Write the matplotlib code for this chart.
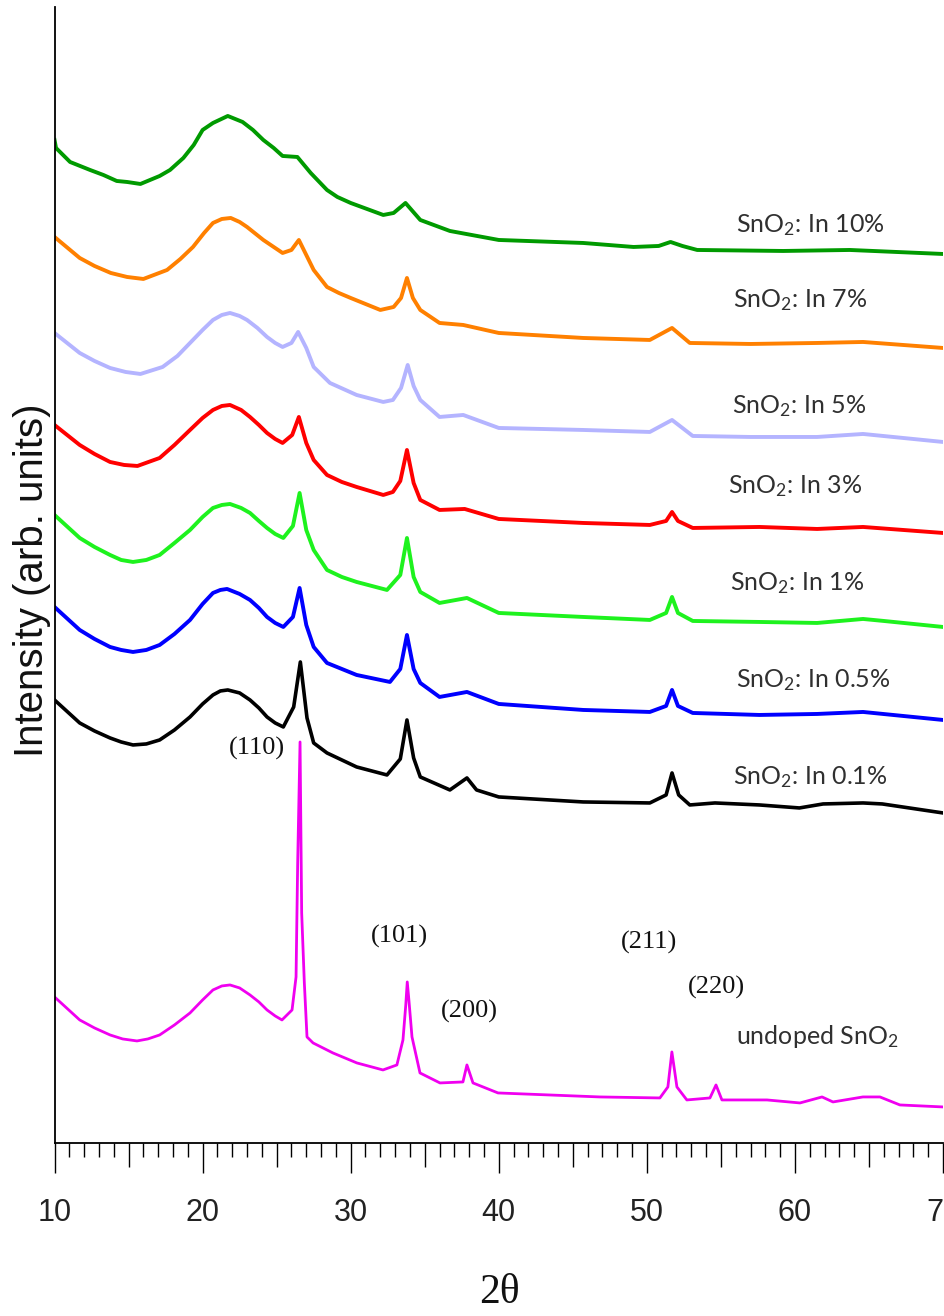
import matplotlib
matplotlib.use("Agg")
import matplotlib.pyplot as plt
from matplotlib.ticker import MultipleLocator, FuncFormatter

plt.rcParams['mathtext.fontset'] = 'custom'
plt.rcParams['mathtext.rm'] = 'Lato'
plt.rcParams['mathtext.it'] = 'Lato:italic'
plt.rcParams['mathtext.bf'] = 'Lato:bold'

# ---------------- data (2theta, intensity in arb. units incl. offsets) ----------------
green_x = [10.0, 10.1, 11.05, 12.4, 13.3, 14.2, 14.9, 15.8, 17.1, 17.8, 18.7, 19.4, 20.0, 20.7, 21.7, 22.7,
           23.4, 24.1, 24.8, 25.4, 26.4, 27.3, 28.4, 29.1, 30.0, 32.2, 32.9, 33.7, 34.7, 36.7, 40.0, 45.7,
           49.1, 50.8, 51.6, 52.4, 53.4, 59.2, 63.7, 70.0]
green_y = [1003, 995, 981, 973, 968, 962, 961, 959, 967, 973, 985, 998, 1013, 1020, 1027, 1021,
           1013, 1003, 995, 987, 986, 970, 953, 946, 940, 928, 930, 940, 923, 912, 903, 900,
           896, 897, 901, 897, 893, 892, 893, 889]

orange_x = [10.0, 11.7, 12.7, 13.8, 14.9, 16.0, 17.6, 18.5, 19.35, 20.1, 20.7, 21.3, 21.9, 22.5, 23.0, 24.1,
            24.8, 25.4, 26.0, 26.5, 27.0, 27.5, 28.4, 29.2, 30.0, 31.0, 32.0, 32.9, 33.4, 33.8, 34.2, 34.7,
            36.0, 37.6, 40.0, 45.7, 50.2, 51.7, 52.9, 57.0, 61.5, 64.6, 70.0]
orange_y = [906, 885, 877, 870, 866, 864, 873, 884, 896, 910, 920, 924, 925, 921, 916, 903,
            896, 890, 893, 903, 888, 873, 856, 850, 845, 839, 833, 836, 845, 865, 845, 833,
            820, 818, 810, 805, 803, 815, 800, 799, 800, 801, 795]

lav_x = [10.0, 11.7, 12.7, 13.75, 14.8, 15.8, 17.3, 18.3, 19.15, 20.0, 20.7, 21.3, 21.85, 22.5, 23.0, 23.7,
         24.35, 24.9, 25.4, 26.0, 26.45, 27.0, 27.5, 28.6, 29.5, 30.4, 32.2, 32.85, 33.4, 33.85, 34.25, 34.7,
         36.0, 37.6, 40.0, 45.7, 50.2, 51.7, 53.1, 57.0, 61.5, 64.6, 70.0]
lav_y = [810, 790, 782, 775, 771, 769, 776, 787, 800, 813, 823, 828, 830, 827, 823, 815,
         806, 800, 796, 800, 811, 795, 776, 760, 754, 748, 741, 743, 755, 778, 757, 743,
         726, 728, 715, 713, 711, 723, 707, 706, 706, 709, 701]

red_x = [10.0, 11.7, 12.7, 13.75, 14.7, 15.6, 17.1, 18.1, 19.15, 20.0, 20.7, 21.3, 21.85, 22.6, 23.2, 23.8,
         24.35, 24.9, 25.4, 26.05, 26.5, 27.0, 27.5, 28.4, 29.4, 30.4, 32.2, 32.85, 33.35, 33.8, 34.25, 34.7,
         36.0, 37.7, 40.0, 45.7, 50.2, 51.3, 51.7, 52.1, 53.1, 57.6, 61.5, 64.6, 70.0]
red_y = [718, 698, 689, 681, 678, 677, 685, 698, 713, 725, 733, 737, 738, 733, 726, 718,
         710, 704, 700, 708, 726, 700, 683, 668, 661, 656, 648, 651, 662, 693, 660, 643,
         633, 634, 624, 620, 618, 622, 631, 622, 615, 616, 614, 616, 610]

lime_x = [10.0, 11.7, 12.7, 13.75, 14.5, 15.3, 16.2, 17.1, 18.1, 19.15, 20.0, 20.7, 21.3, 21.85, 22.6, 23.2,
          23.8, 24.35, 24.9, 25.45, 26.1, 26.55, 27.0, 27.5, 28.4, 29.4, 30.4, 32.45, 33.35, 33.8, 34.25, 34.7,
          36.0, 37.85, 40.0, 45.7, 50.2, 51.3, 51.7, 52.1, 53.1, 57.6, 61.5, 64.6, 66.0, 70.0]
lime_y = [628, 605, 596, 588, 583, 581, 583, 588, 600, 613, 626, 635, 638, 639, 635, 630,
          622, 615, 609, 605, 617, 650, 613, 593, 573, 566, 561, 553, 568, 605, 566, 551,
          540, 545, 530, 526, 523, 530, 546, 530, 522, 521, 520, 524, 522, 516]

blue_x = [10.0, 11.7, 12.7, 13.75, 14.5, 15.3, 16.2, 17.1, 18.1, 19.15, 20.0, 20.7, 21.2, 21.65, 22.5, 23.2,
          23.8, 24.35, 24.9, 25.45, 26.1, 26.55, 27.0, 27.5, 28.4, 29.4, 30.4, 32.65, 33.35, 33.8, 34.25, 34.7,
          36.0, 37.85, 40.0, 45.7, 50.2, 51.3, 51.7, 52.1, 53.1, 57.6, 61.5, 64.6, 70.0]
blue_y = [536, 513, 504, 496, 493, 491, 493, 498, 509, 523, 539, 550, 553, 554, 549, 543,
          535, 526, 520, 516, 526, 555, 518, 496, 480, 474, 468, 461, 474, 508, 474, 460,
          446, 451, 439, 433, 431, 437, 453, 437, 430, 428, 429, 431, 423]

black_x = [10.0, 11.7, 12.7, 13.75, 14.5, 15.3, 16.2, 17.1, 18.1, 19.15, 20.0, 20.7, 21.2, 21.7, 22.5, 23.2,
           23.8, 24.35, 24.9, 25.45, 26.15, 26.6, 27.05, 27.5, 28.4, 29.4, 30.4, 32.45, 33.35, 33.8, 34.25, 34.7,
           36.7, 37.85, 38.5, 40.0, 45.7, 50.2, 51.3, 51.7, 52.15, 52.9, 54.6, 57.6, 60.3, 61.9, 64.6, 65.9,
           70.0]
black_y = [443, 420, 412, 405, 401, 398, 399, 403, 413, 426, 439, 448, 452, 453, 450, 443,
           435, 426, 420, 416, 436, 481, 425, 400, 390, 383, 376, 368, 384, 423, 385, 366,
           353, 365, 353, 346, 341, 340, 348, 370, 348, 338, 340, 338, 335, 339, 340, 339,
           330]

undoped_x = [10.0, 11.7, 12.7, 13.75, 14.6, 15.57, 16.3, 17.1, 18.1, 19.15, 20.0, 20.7, 21.3, 21.85, 22.5,
             23.2, 23.8, 24.35, 24.9, 25.36, 26.04, 26.31, 26.42, 26.58, 26.69, 26.87, 27.05, 27.46, 28.8,
             30.42, 32.18, 33.12, 33.53, 33.72, 33.82, 33.93, 34.14, 34.68, 36.03, 37.58, 37.85, 38.26,
             39.95, 46.83, 50.88, 51.42, 51.69, 52.03, 52.7, 54.26, 54.67, 55.07, 58.11, 60.34, 61.83,
             62.57, 64.59, 65.74, 67.09, 70.0]
undoped_y = [146, 123, 115, 108, 104, 102, 104, 108, 118, 130, 143, 153, 157, 158, 155,
             148, 141, 133, 127, 123, 133, 166, 280, 401, 230, 160, 106, 100, 90,
             80, 73, 78, 103, 138, 161, 143, 106, 70, 60, 61, 78, 60,
             50, 46, 45, 56, 91, 56, 43, 45, 58, 43, 43, 40, 46,
             41, 46, 46, 38, 36]

series_labels = ["SnO$_2$: In 10%", "SnO$_2$: In 7%", "SnO$_2$: In 5%", "SnO$_2$: In 3%",
                 "SnO$_2$: In 1%", "SnO$_2$: In 0.5%", "SnO$_2$: In 0.1%", "undoped SnO$_2$"]
miller_labels = ["(110)", "(101)", "(200)", "(211)", "(220)"]
x_tick_values = [10, 20, 30, 40, 50, 60, 70]

# ---------------- figure ----------------
fig = plt.figure(figsize=(9.45, 13.16), dpi=100)
ax = fig.add_axes([0.0577, 0.1315, 0.9402, 0.8632])

series = [
    (green_x, green_y, '#009a00', 2.8),
    (orange_x, orange_y, '#ff8000', 2.8),
    (lav_x, lav_y, '#b4b4ff', 2.8),
    (red_x, red_y, '#ff0000', 2.8),
    (lime_x, lime_y, '#1ef21e', 2.8),
    (blue_x, blue_y, '#0000ff', 2.8),
    (black_x, black_y, '#000000', 2.6),
    (undoped_x, undoped_y, '#f000f0', 2.0),
]
for xs, ys, c, lw in series:
    ax.plot(xs, ys, color=c, lw=lw, solid_joinstyle='round')

ax.set_xlim(10, 70)
ax.set_ylim(0, 1136)

for s in ['top', 'right']:
    ax.spines[s].set_visible(False)
ax.spines['left'].set_linewidth(1.3)
ax.spines['bottom'].set_linewidth(1.3)
ax.set_yticks([])

ax.xaxis.set_major_locator(MultipleLocator(5))
ax.xaxis.set_minor_locator(MultipleLocator(1))
ax.tick_params(axis='x', which='major', direction='out', length=17.3, width=1.0, pad=22,
               labelsize=22, labelcolor='#222222')
ax.tick_params(axis='x', which='minor', direction='out', length=10, width=1.0)
ax.xaxis.set_major_formatter(FuncFormatter(lambda v, p: f"{int(round(v))}" if round(v) in x_tick_values else ""))
fig.canvas.draw()
for t in ax.xaxis.get_major_ticks():
    if round(t.get_loc()) in x_tick_values:
        t.tick1line.set_markersize(21.6)
for lab in ax.get_xticklabels():
    lab.set_family(['Liberation Sans Narrow', 'Liberation Sans'])

# series labels
label_pos = [(56.0, 918), (55.81, 843), (55.74, 737), (55.47, 657),
             (55.61, 560), (56.02, 463), (55.81, 366), (56.02, 106)]
for txt, (lx, ly) in zip(series_labels, label_pos):
    ax.text(lx, ly, txt, fontsize=18, family='Lato', color='#303030', ha='left', va='center')

miller_pos = [(23.67, 395), (33.26, 206), (37.99, 131), (50.14, 200), (54.73, 155)]
for txt, (mx, my) in zip(miller_labels, miller_pos):
    ax.text(mx, my, txt, fontsize=19, family='Liberation Serif', color='#111111', ha='center', va='center')

fig.text(499 / 945, 1 - 1293 / 1316, "2θ", fontsize=30, family='Liberation Serif',
         ha='center', va='center', color='#111111')
fig.text(32 / 945, 1 - 580 / 1316, "Intensity (arb. units)", fontsize=29, family='Liberation Sans',
         rotation=90, ha='center', va='center', color='#111111')

fig.savefig("out.png", dpi=100)
